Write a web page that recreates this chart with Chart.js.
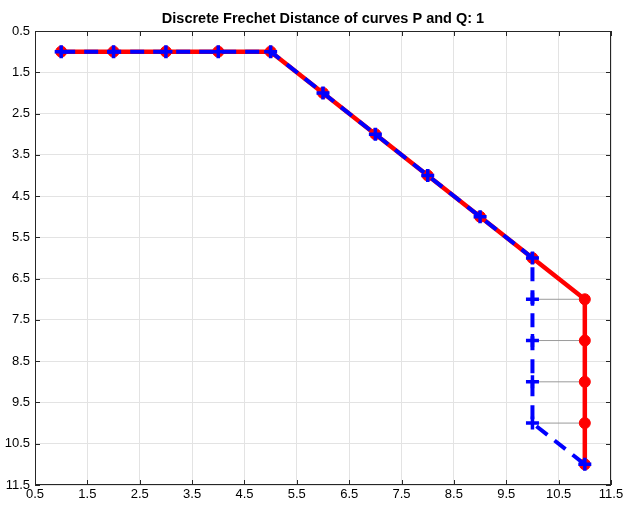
<!DOCTYPE html>
<html>
<head>
<meta charset="utf-8">
<script src="https://cdn.jsdelivr.net/npm/chart.js@4/dist/chart.umd.min.js"></script>
<style>
  body { margin: 0; background: #fff; }
</style>
</head>
<body>
<canvas id="frechet" width="623" height="507"></canvas>
<script>
'use strict';

// curve P (red, circles) and curve Q (blue dashed, plus signs)
const pX = [1, 2, 3, 4, 5, 6, 7, 8, 9, 10, 11, 11, 11, 11, 11];
const pY = [1, 1, 1, 1, 1, 2, 3, 4, 5, 6, 7, 8, 9, 10, 11];
const qX = [1, 2, 3, 4, 5, 6, 7, 8, 9, 10, 10, 10, 10, 10, 11];
const qY = [1, 1, 1, 1, 1, 2, 3, 4, 5, 6, 7, 8, 9, 10, 11];

// optimal coupling: index into P, index into Q
const couplingP = [0, 1, 2, 3, 4, 5, 6, 7, 8, 9, 10, 11, 12, 13, 14];
const couplingQ = [0, 1, 2, 3, 4, 5, 6, 7, 8, 9, 10, 11, 12, 13, 14];

const xTicks = [0.5, 1.5, 2.5, 3.5, 4.5, 5.5, 6.5, 7.5, 8.5, 9.5, 10.5, 11.5];
const yTicks = [0.5, 1.5, 2.5, 3.5, 4.5, 5.5, 6.5, 7.5, 8.5, 9.5, 10.5, 11.5];

const titleText = 'Discrete Frechet Distance of curves P and Q: 1';

const toPoints = (xs, ys) => xs.map((x, i) => ({ x: x, y: ys[i] }));

const couplingSets = couplingP.map((pi, k) => {
    const qi = couplingQ[k];
    return {
        data: [{ x: qX[qi], y: qY[qi] }, { x: pX[pi], y: pY[pi] }],
        showLine: true,
        borderColor: '#9a9a9a',
        borderWidth: 1,
        pointRadius: 0
    };
});

const datasets = [
    {
        label: 'Q',
        data: toPoints(qX, qY),
        showLine: true,
        borderColor: '#0000ff',
        borderWidth: 4,
        borderDash: [14, 9],
        pointStyle: 'cross',
        pointRadius: 6.5,
        pointBorderWidth: 3.5,
        pointBorderColor: '#0000ff',
        pointBackgroundColor: '#0000ff'
    },
    {
        label: 'P',
        data: toPoints(pX, pY),
        showLine: true,
        borderColor: '#ff0000',
        borderWidth: 4.5,
        pointStyle: 'circle',
        pointRadius: 5.5,
        pointBorderWidth: 1,
        pointBorderColor: '#ff0000',
        pointBackgroundColor: '#ff0000'
    }
].concat(couplingSets);

// axes box with inward ticks on all four sides
const boxPlugin = {
    id: 'box',
    afterDraw(chart) {
        const { ctx, chartArea: a, scales } = chart;
        const len = 5;
        ctx.save();
        ctx.strokeStyle = '#262626';
        ctx.lineWidth = 1;
        ctx.strokeRect(a.left + 0.5, a.top + 0.5, a.right - a.left - 1, a.bottom - a.top - 1);
        ctx.beginPath();
        xTicks.forEach(v => {
            const px = Math.round(scales.x.getPixelForValue(v)) + 0.5;
            ctx.moveTo(px, a.bottom);
            ctx.lineTo(px, a.bottom - len);
            ctx.moveTo(px, a.top);
            ctx.lineTo(px, a.top + len);
        });
        yTicks.forEach(v => {
            const py = Math.round(scales.y.getPixelForValue(v)) + 0.5;
            ctx.moveTo(a.left, py);
            ctx.lineTo(a.left + len, py);
            ctx.moveTo(a.right, py);
            ctx.lineTo(a.right - len, py);
        });
        ctx.stroke();
        ctx.restore();
    }
};

Chart.defaults.font.family = '"Liberation Sans", Arial, Helvetica, sans-serif';
Chart.defaults.color = '#000';

new Chart(document.getElementById('frechet'), {
    type: 'scatter',
    data: { datasets: datasets },
    options: {
        responsive: false,
        animation: false,
        layout: { padding: { top: 0, right: 12, left: 0, bottom: 0 } },
        plugins: {
            legend: { display: false },
            tooltip: { enabled: false },
            title: {
                display: true,
                fullSize: false,
                text: titleText,
                color: '#000',
                font: { size: 14.5, weight: 'bold' },
                padding: { top: 10, bottom: 3.6 }
            }
        },
        scales: {
            x: {
                type: 'linear',
                min: 0.5,
                max: 11.5,
                afterBuildTicks: axis => { axis.ticks = xTicks.map(v => ({ value: v })); },
                afterFit: axis => {
                    axis.height = 22;
                    axis.paddingLeft = 0;
                    axis.paddingRight = 0;
                },
                ticks: {
                    font: { size: 13 },
                    padding: 2,
                    maxRotation: 0,
                    callback: v => v.toFixed(1)
                },
                grid: { color: '#e3e3e3', drawTicks: false },
                border: { display: false }
            },
            y: {
                type: 'linear',
                reverse: true,
                min: 0.5,
                max: 11.5,
                afterBuildTicks: axis => { axis.ticks = yTicks.map(v => ({ value: v })); },
                afterFit: axis => {
                    axis.width = 35;
                    axis.paddingTop = 0;
                    axis.paddingBottom = 0;
                },
                ticks: {
                    font: { size: 13 },
                    padding: 5,
                    callback: v => v.toFixed(1)
                },
                grid: { color: '#e3e3e3', drawTicks: false },
                border: { display: false }
            }
        }
    },
    plugins: [boxPlugin]
});
</script>
</body>
</html>
